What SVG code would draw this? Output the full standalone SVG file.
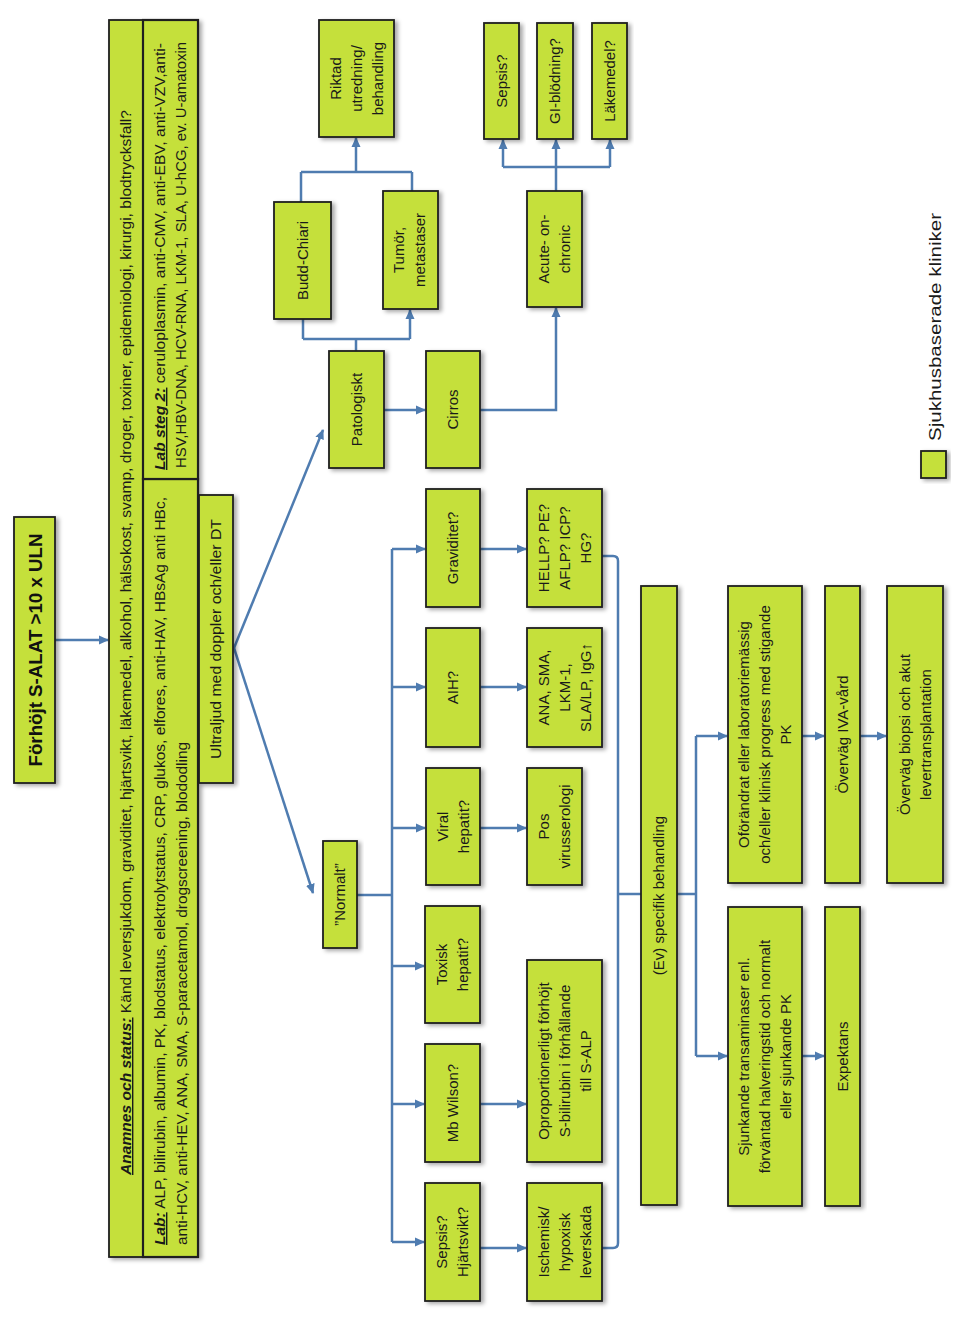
<svg xmlns="http://www.w3.org/2000/svg" width="960" height="1321" viewBox="0 0 960 1321">
<style>
.b{fill:#c5e03b;stroke:#1f1f1f;stroke-width:1.8;filter:url(#sh)}
.t{font-family:"Liberation Sans",Arial,sans-serif;font-size:15px;fill:#1a1a1a;text-anchor:middle}
.s{font-family:"Liberation Sans",Arial,sans-serif;font-size:14px;fill:#1a1a1a}
.c{fill:none;stroke:#4f7cb0;stroke-width:2.5}
.a{marker-end:url(#ah)}
.h{font-weight:bold;font-style:italic;text-decoration:underline}
</style>
<defs>
<filter id="sh" x="-20%" y="-20%" width="140%" height="140%">
<feDropShadow dx="3" dy="2" stdDeviation="2" flood-color="#000" flood-opacity="0.35"/>
</filter>
<marker id="ah" viewBox="0 0 10 10" refX="9" refY="5" markerWidth="10" markerHeight="10" markerUnits="userSpaceOnUse" orient="auto">
<path d="M0,0.5 L10,5 L0,9.5 z" fill="#4f7cb0"/>
</marker>
</defs>
<rect width="960" height="1321" fill="#fff"/>

<g id="connectors">
<path class="c a" d="M55,640 H108"/>
<path class="c a" d="M234,648 L323,430"/>
<path class="c a" d="M234,648 L313,893"/>
<path class="c" d="M357,895 H392"/>
<path class="c" d="M392,549 V1242"/>
<path class="c a" d="M392,549 H425"/>
<path class="c a" d="M392,687 H425"/>
<path class="c a" d="M392,828 H425"/>
<path class="c a" d="M392,966 H424"/>
<path class="c a" d="M392,1104 H424"/>
<path class="c a" d="M392,1242 H424"/>
<path class="c a" d="M480,549 H526"/>
<path class="c a" d="M480,687 H526"/>
<path class="c a" d="M480,828 H526"/>
<path class="c a" d="M480,1104 H526"/>
<path class="c a" d="M480,1248 H526"/>
<path class="c" d="M602,556 H613 Q618,556 618,561 V1243 Q618,1248 613,1248 H602"/>
<path class="c" d="M618,894 H641"/>
<path class="c" d="M677,894 H696"/>
<path class="c" d="M696,736 V1056"/>
<path class="c a" d="M696,736 H727"/>
<path class="c a" d="M696,1056 H727"/>
<path class="c a" d="M802,736 H824"/>
<path class="c a" d="M860,736 H886"/>
<path class="c a" d="M802,1056 H824"/>
<path class="c" d="M356,351 V339 M303,339 H410 M303,339 V319"/>
<path class="c a" d="M410,339 V310"/>
<path class="c" d="M301,202 V172 M412,191 V172 M301,172 H412"/>
<path class="c a" d="M356,172 V138"/>
<path class="c a" d="M384,410 H425"/>
<path class="c a" d="M480,410 H556 V308"/>
<path class="c" d="M556,191 V167 M503,167 H610"/>
<path class="c a" d="M503,167 V140"/>
<path class="c a" d="M556,167 V140"/>
<path class="c a" d="M610,167 V140"/>
</g>

<g id="title">
<rect class="b" x="14" y="517" width="41" height="266"/>
<text transform="translate(34.5,650) rotate(-90)" style="font-family:'Liberation Sans',Arial,sans-serif;font-size:19px;font-weight:bold;fill:#111" text-anchor="middle" y="7" textLength="233" lengthAdjust="spacingAndGlyphs">Förhöjt S-ALAT &gt;10 x ULN</text>
</g>

<g id="anamnes">
<rect class="b" x="109" y="20" width="89" height="1237"/>
<text class="s" transform="translate(131,1175) rotate(-90)" textLength="1065" lengthAdjust="spacingAndGlyphs"><tspan class="h">Anamnes och status:</tspan> Känd leversjukdom, graviditet, hjärtsvikt, läkemedel, alkohol, hälsokost, svamp, droger, toxiner, epidemiologi, kirurgi, blodtrycksfall?</text>
</g>

<g id="lab">
<rect x="143" y="479" width="55" height="778" fill="#c5e03b" stroke="#1f1f1f" stroke-width="2.2"/>
<text class="s" transform="translate(165,1245) rotate(-90)" textLength="748" lengthAdjust="spacingAndGlyphs"><tspan class="h">Lab:</tspan> ALP, bilirubin, albumin, PK, blodstatus, elektrolytstatus, CRP, glukos, elfores, anti-HAV, HBsAg anti HBc,</text>
<text class="s" transform="translate(187,1245) rotate(-90)" textLength="503" lengthAdjust="spacingAndGlyphs">anti-HCV, anti-HEV, ANA, SMA, S-paracetamol, drogscreening, blododling</text>
</g>

<g id="lab2">
<rect x="143" y="20" width="55" height="459" fill="#c5e03b" stroke="#1f1f1f" stroke-width="2.2"/>
<text class="s" transform="translate(165,470) rotate(-90)" textLength="427" lengthAdjust="spacingAndGlyphs"><tspan class="h">Lab steg 2:</tspan> ceruloplasmin, anti-CMV, anti-EBV, anti-VZV,anti-</text>
<text class="s" transform="translate(186,468) rotate(-90)" textLength="426" lengthAdjust="spacingAndGlyphs">HSV,HBV-DNA, HCV-RNA, LKM-1, SLA, U-hCG, ev. U-amatoxin</text>
</g>

<g id="ultraljud">
<rect class="b" x="199" y="495" width="34" height="288"/>
<text class="s" transform="translate(216,639) rotate(-90)" text-anchor="middle" y="5" textLength="240" lengthAdjust="spacingAndGlyphs">Ultraljud med doppler och/eller DT</text>
</g>

<g id="patologiskt">
<rect class="b" x="329" y="351" width="55" height="117"/>
<text class="t" transform="translate(356.5,409.5) rotate(-90)"><tspan x="0" y="5">Patologiskt</tspan></text>
</g>

<g id="cirros">
<rect class="b" x="426" y="351" width="54" height="117"/>
<text class="t" transform="translate(453,409.5) rotate(-90)"><tspan x="0" y="5">Cirros</tspan></text>
</g>

<g id="budd">
<rect class="b" x="274" y="202" width="57" height="117"/>
<text class="t" transform="translate(302.5,260.5) rotate(-90)"><tspan x="0" y="5">Budd-Chiari</tspan></text>
</g>

<g id="tumor">
<rect class="b" x="383" y="191" width="55" height="118"/>
<text class="t" transform="translate(409,250) rotate(-90)"><tspan x="0" y="-5.5">Tumör,</tspan><tspan x="0" y="15.5">metastaser</tspan></text>
</g>

<g id="riktad">
<rect class="b" x="319" y="20" width="75" height="117"/>
<text class="t" transform="translate(356.5,78.5) rotate(-90)"><tspan x="0" y="-16">Riktad</tspan><tspan x="0" y="5">utredning/</tspan><tspan x="0" y="26">behandling</tspan></text>
</g>

<g id="acute">
<rect class="b" x="527" y="191" width="55" height="116"/>
<text class="t" transform="translate(554.5,249) rotate(-90)"><tspan x="0" y="-5.5">Acute- on-</tspan><tspan x="0" y="15.5">chronic</tspan></text>
</g>

<g id="sepsis2">
<rect class="b" x="484" y="23" width="35" height="116"/>
<text class="t" transform="translate(501.5,81) rotate(-90)"><tspan x="0" y="5">Sepsis?</tspan></text>
</g>

<g id="gi">
<rect class="b" x="537" y="23" width="36" height="116"/>
<text class="t" transform="translate(555,81) rotate(-90)"><tspan x="0" y="5">GI-blödning?</tspan></text>
</g>

<g id="lakemedel">
<rect class="b" x="592" y="23" width="35" height="116"/>
<text class="t" transform="translate(609.5,81) rotate(-90)"><tspan x="0" y="5">Läkemedel?</tspan></text>
</g>

<g id="normalt">
<rect class="b" x="323" y="841" width="34" height="107"/>
<text class="t" transform="translate(340,894.5) rotate(-90)"><tspan x="0" y="5">”Normalt”</tspan></text>
</g>

<g id="graviditet">
<rect class="b" x="426" y="489" width="54" height="118"/>
<text class="t" transform="translate(453,548) rotate(-90)"><tspan x="0" y="5">Graviditet?</tspan></text>
</g>

<g id="aih">
<rect class="b" x="426" y="628" width="54" height="119"/>
<text class="t" transform="translate(453,687.5) rotate(-90)"><tspan x="0" y="5">AIH?</tspan></text>
</g>

<g id="viral">
<rect class="b" x="426" y="768" width="54" height="117"/>
<text class="t" transform="translate(453,826.5) rotate(-90)"><tspan x="0" y="-5.5">Viral</tspan><tspan x="0" y="15.5">hepatit?</tspan></text>
</g>

<g id="toxisk">
<rect class="b" x="425" y="906" width="55" height="117"/>
<text class="t" transform="translate(452.5,964.5) rotate(-90)"><tspan x="0" y="-5.5">Toxisk</tspan><tspan x="0" y="15.5">hepatit?</tspan></text>
</g>

<g id="wilson">
<rect class="b" x="425" y="1044" width="55" height="118"/>
<text class="t" transform="translate(452.5,1103) rotate(-90)"><tspan x="0" y="5">Mb Wilson?</tspan></text>
</g>

<g id="sepsis">
<rect class="b" x="425" y="1183" width="55" height="118"/>
<text class="t" transform="translate(452.5,1242) rotate(-90)"><tspan x="0" y="-5.5">Sepsis?</tspan><tspan x="0" y="15.5">Hjärtsvikt?</tspan></text>
</g>

<g id="hellp">
<rect class="b" x="527" y="489" width="75" height="118"/>
<text class="t" transform="translate(564.5,548) rotate(-90)"><tspan x="0" y="-16">HELLP? PE?</tspan><tspan x="0" y="5">AFLP? ICP?</tspan><tspan x="0" y="26">HG?</tspan></text>
</g>

<g id="ana">
<rect class="b" x="527" y="628" width="75" height="119"/>
<text class="t" transform="translate(564.5,687.5) rotate(-90)"><tspan x="0" y="-16">ANA, SMA,</tspan><tspan x="0" y="5">LKM-1,</tspan><tspan x="0" y="26">SLA/LP, IgG↑</tspan></text>
</g>

<g id="pos">
<rect class="b" x="527" y="768" width="55" height="117"/>
<text class="t" transform="translate(554.5,826.5) rotate(-90)"><tspan x="0" y="-5.5">Pos</tspan><tspan x="0" y="15.5">virusserologi</tspan></text>
</g>

<g id="oprop">
<rect class="b" x="527" y="960" width="75" height="202"/>
<text class="t" transform="translate(564.5,1061) rotate(-90)"><tspan x="0" y="-16">Oproportionerligt förhöjt</tspan><tspan x="0" y="5">S-bilirubin i förhållande</tspan><tspan x="0" y="26">till S-ALP</tspan></text>
</g>

<g id="ischemisk">
<rect class="b" x="527" y="1183" width="75" height="118"/>
<text class="t" transform="translate(564.5,1242) rotate(-90)"><tspan x="0" y="-16">Ischemisk/</tspan><tspan x="0" y="5">hypoxisk</tspan><tspan x="0" y="26">leverskada</tspan></text>
</g>

<g id="ev">
<rect class="b" x="641" y="586" width="36" height="619"/>
<text class="t" transform="translate(659,895.5) rotate(-90)"><tspan x="0" y="5">(Ev) specifik behandling</tspan></text>
</g>

<g id="oforandrat">
<rect class="b" x="728" y="586" width="74" height="297"/>
<text class="t" transform="translate(765,734.5) rotate(-90)"><tspan x="0" y="-16">Oförändrat eller laboratoriemässig</tspan><tspan x="0" y="5">och/eller klinisk progress med stigande</tspan><tspan x="0" y="26">PK</tspan></text>
</g>

<g id="iva">
<rect class="b" x="825" y="586" width="35" height="297"/>
<text class="t" transform="translate(842.5,734.5) rotate(-90)"><tspan x="0" y="5">Överväg IVA-vård</tspan></text>
</g>

<g id="biopsi">
<rect class="b" x="887" y="586" width="56" height="297"/>
<text class="t" transform="translate(915,734.5) rotate(-90)"><tspan x="0" y="-5.5">Överväg biopsi och akut</tspan><tspan x="0" y="15.5">levertransplantation</tspan></text>
</g>

<g id="sjunkande">
<rect class="b" x="728" y="907" width="74" height="299"/>
<text class="t" transform="translate(765,1056.5) rotate(-90)"><tspan x="0" y="-16">Sjunkande transaminaser enl.</tspan><tspan x="0" y="5">förväntad halveringstid och normalt</tspan><tspan x="0" y="26">eller sjunkande PK</tspan></text>
</g>

<g id="expektans">
<rect class="b" x="825" y="907" width="35" height="299"/>
<text class="t" transform="translate(842.5,1056.5) rotate(-90)"><tspan x="0" y="5">Expektans</tspan></text>
</g>

<g id="legend">
<rect class="b" x="921" y="451" width="25" height="27"/>
<text transform="translate(935,441) rotate(-90)" style="font-family:'Liberation Sans',Arial,sans-serif;font-size:16px;fill:#1a1a1a" y="6" textLength="228" lengthAdjust="spacingAndGlyphs">Sjukhusbaserade  kliniker</text>
</g>
</svg>
